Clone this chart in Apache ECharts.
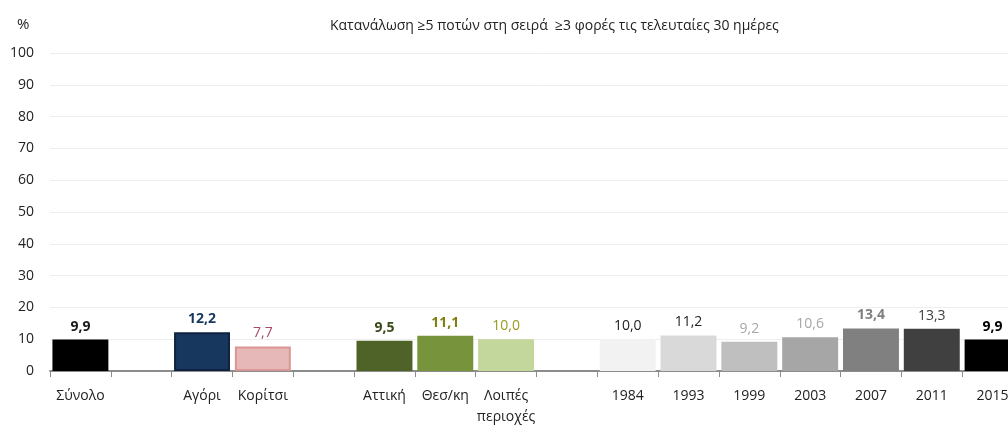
<!DOCTYPE html>
<html>
<head>
<meta charset="utf-8">
<script src="https://cdn.jsdelivr.net/npm/echarts@6/dist/echarts.min.js"></script>
<style>html,body{margin:0;padding:0;background:#fff;overflow:hidden;width:1008px;height:425px}#c{width:1023px;height:425px}</style>
</head>
<body>
<div id="c"></div>
<script>
var categories = ['Σύνολο', '', 'Αγόρι', 'Κορίτσι', '', 'Αττική', 'Θεσ/κη', 'Λοιπές\nπεριοχές', '', '1984', '1993', '1999', '2003', '2007', '2011', '2015'];
var values = [9.9, null, 12.2, 7.7, null, 9.5, 11.1, 10.0, null, 10.0, 11.2, 9.2, 10.6, 13.4, 13.3, 9.9];
var yTicks = [0, 10, 20, 30, 40, 50, 60, 70, 80, 90, 100];
var titleText = 'Κατανάλωση ≥5 ποτών στη σειρά  ≥3 φορές τις τελευταίες 30 ημέρες';

var barColors = ['#000000', null, '#17375e', '#e6b9b8', null, '#4f6228', '#77933c', '#c3d69b', null, '#f2f2f2', '#d9d9d9', '#bfbfbf', '#a6a6a6', '#808080', '#404040', '#000000'];
var borderColors = [null, null, '#0f2340', '#d99694', null, null, null, null, null, null, null, null, null, null, null, null];
var labelColors = ['#1a1a1a', null, '#17375e', '#a8496f', null, '#3b4a1a', '#7f7f12', '#9a9a22', null, '#222222', '#222222', '#a6a6a6', '#a6a6a6', '#808080', '#404040', '#000000'];
var labelBold = [true, false, true, false, false, true, true, false, false, false, false, false, false, true, false, true];

var FONT = '"Open Sans", "Noto Sans", sans-serif';

var data = values.map(function (v, i) {
  if (v === null) return '-';
  var item = {
    value: v,
    itemStyle: { color: barColors[i] },
    label: { color: labelColors[i], fontWeight: labelBold[i] ? 'bold' : 'normal' }
  };
  if (borderColors[i]) {
    item.itemStyle.borderColor = borderColors[i];
    item.itemStyle.borderWidth = 2;
  }
  return item;
});

var chart = echarts.init(document.getElementById('c'), null, { renderer: 'canvas' });
chart.setOption({
  animation: false,
  backgroundColor: '#ffffff',
  textStyle: { fontFamily: FONT },
  title: [
    { text: titleText, left: 325, top: 14, textStyle: { fontSize: 14, fontWeight: 'normal', color: '#222', fontFamily: FONT } },
    { text: '%', left: 12, top: 12, textStyle: { fontSize: 15, fontWeight: 'normal', color: '#222', fontFamily: FONT } }
  ],
  grid: { left: 50, top: 53, right: 0, height: 318, containLabel: false, outerBoundsMode: 'none' },
  xAxis: {
    type: 'category',
    data: categories,
    axisLine: { show: true, lineStyle: { color: '#8c8c8c', width: 2 } },
    axisTick: { show: true, alignWithLabel: false, interval: 0, length: 6, lineStyle: { color: '#8c8c8c', width: 1 } },
    axisLabel: { interval: 0, color: '#222', fontSize: 14, margin: 15, lineHeight: 21, fontFamily: FONT }
  },
  yAxis: {
    type: 'value',
    min: 0,
    max: 100,
    interval: 10,
    axisLine: { show: false },
    axisTick: { show: false },
    splitLine: { show: true, lineStyle: { color: '#eeeeee', width: 1 } },
    axisLabel: {
      color: '#222', fontSize: 14, margin: 16, fontFamily: FONT,
      formatter: function (v) { return yTicks.indexOf(v) >= 0 ? String(v) : ''; }
    }
  },
  series: [{
    type: 'bar',
    data: data,
    barCategoryGap: '8%',
    label: {
      show: true,
      position: 'top',
      distance: 6,
      fontSize: 14,
      fontFamily: FONT,
      formatter: function (p) { return p.value.toFixed(1).replace('.', ','); }
    }
  }]
});
</script>
</body>
</html>
